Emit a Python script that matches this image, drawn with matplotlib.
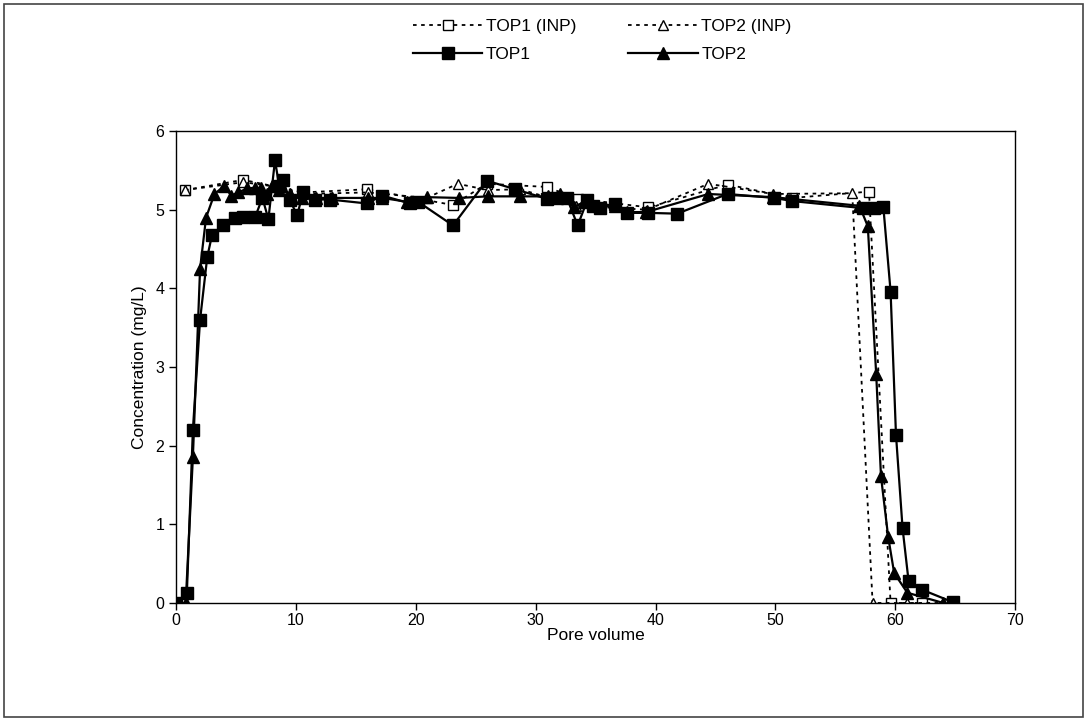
import matplotlib
matplotlib.use("Agg")
import matplotlib.pyplot as plt
from matplotlib.patches import Rectangle

plt.rcParams["font.family"] = ["Liberation Sans", "DejaVu Sans"]

# measured TOP1 (filled squares)
top1_x = [0.0, 0.9, 1.4, 2.0, 2.6, 3.0, 3.9, 4.9, 5.6, 6.6, 7.2, 7.7, 8.25, 8.6, 8.9, 9.5,
          10.1, 10.6, 11.6, 12.8, 15.9, 17.2, 19.5, 20.2, 23.1, 25.9, 28.3, 30.9, 31.8,
          32.6, 33.5, 34.3, 34.8, 35.4, 36.6, 37.6, 39.4, 41.8, 46.0, 49.9, 51.4, 57.3,
          58.2, 59.0, 59.6, 60.05, 60.6, 61.1, 62.2, 64.8]
top1_y = [0.0, 0.13, 2.2, 3.6, 4.4, 4.68, 4.8, 4.89, 4.91, 4.91, 5.15, 4.88, 5.63, 5.3, 5.38, 5.12,
          4.93, 5.22, 5.13, 5.13, 5.08, 5.18, 5.08, 5.1, 4.8, 5.37, 5.26, 5.14, 5.15,
          5.15, 4.8, 5.12, 5.05, 5.02, 5.07, 4.96, 4.96, 4.95, 5.2, 5.15, 5.11, 5.02,
          5.02, 5.03, 3.96, 2.14, 0.95, 0.28, 0.17, 0.01]

# measured TOP2 (filled triangles)
top2_x = [0.2, 0.8, 1.4, 2.0, 2.5, 3.2, 4.0, 4.6, 5.2, 5.9, 6.6, 7.1, 7.6, 8.0, 8.6, 9.5,
          10.5, 11.7, 13.0, 16.0, 17.2, 19.3, 20.9, 23.6, 26.0, 28.7, 31.0, 32.0, 33.2,
          34.0, 36.6, 37.6, 39.2, 44.4, 49.8, 57.0, 57.7, 58.4, 58.8, 59.4, 59.9, 61.0, 64.0]
top2_y = [0.0, 0.0, 1.85, 4.25, 4.9, 5.2, 5.3, 5.18, 5.22, 5.27, 5.28, 5.27, 5.2, 5.3, 5.25, 5.2,
          5.15, 5.15, 5.15, 5.15, 5.15, 5.1, 5.16, 5.15, 5.17, 5.17, 5.17, 5.2, 5.03,
          5.1, 5.05, 4.97, 4.97, 5.2, 5.16, 5.05, 4.79, 2.91, 1.61, 0.84, 0.38, 0.13, 0.0]

# input concentrations (open markers, dotted)
inp1_x = [0.75, 5.6, 10.6, 15.9, 23.1, 25.9, 30.9, 33.5, 39.4, 46.0, 51.4, 57.8, 59.6, 62.2]
inp1_y = [5.25, 5.38, 5.22, 5.26, 5.06, 5.33, 5.29, 5.14, 5.03, 5.32, 5.15, 5.23, 0.0, 0.0]
inp2_x = [0.75, 5.6, 8.0, 10.6, 16.0, 20.9, 23.5, 26.0, 28.7, 33.4, 39.3, 44.4, 49.8, 56.4,
          58.1, 61.0, 64.0]
inp2_y = [5.25, 5.35, 5.3, 5.2, 5.22, 5.15, 5.33, 5.25, 5.26, 5.05, 5.0, 5.33, 5.2, 5.21,
          0.0, 0.0, 0.0]

fig = plt.figure(figsize=(10.87, 7.21), dpi=100)
ax = fig.add_axes([0.162, 0.1637, 0.772, 0.6545])

fig.patches.append(Rectangle((0.004, 0.006), 0.992, 0.988, transform=fig.transFigure,
                             fill=False, edgecolor="#444444", linewidth=1.2))

l_inp1, = ax.plot(inp1_x, inp1_y, color="black", linestyle=(0, (2, 2.5)), linewidth=1.3,
                  marker="s", markersize=6.5, markerfacecolor="white", markeredgewidth=1.0,
                  label="TOP1 (INP)")
l_inp2, = ax.plot(inp2_x, inp2_y, color="black", linestyle=(0, (2, 2.5)), linewidth=1.3,
                  marker="^", markersize=7, markerfacecolor="white", markeredgewidth=1.0,
                  label="TOP2 (INP)")
l_top1, = ax.plot(top1_x, top1_y, color="black", linewidth=1.6, marker="s", markersize=8,
                  label="TOP1")
l_top2, = ax.plot(top2_x, top2_y, color="black", linewidth=1.6, marker="^", markersize=8.5,
                  label="TOP2")

ax.set_xlim(0, 70)
ax.set_ylim(0, 6)
ax.set_xticks(range(0, 71, 10))
ax.set_yticks(range(0, 7))
ax.tick_params(direction="out", length=5, width=1, labelsize=11.5)
ax.tick_params(axis="x", pad=2)
for s in ax.spines.values():
    s.set_linewidth(1.0)
ax.set_xlabel("Pore volume", fontsize=12.5, labelpad=0)
ax.set_ylabel("Concentration (mg/L)", fontsize=12.5, labelpad=6)

fig.legend([l_inp1, l_top1, l_inp2, l_top2], ["TOP1 (INP)", "TOP1", "TOP2 (INP)", "TOP2"],
           loc="upper center", bbox_to_anchor=(0.554, 0.995), ncol=2, frameon=False,
           fontsize=12.5, handlelength=4.0, columnspacing=3.0, labelspacing=0.7,
           handletextpad=0.2)

fig.savefig("out.png", dpi=100)
